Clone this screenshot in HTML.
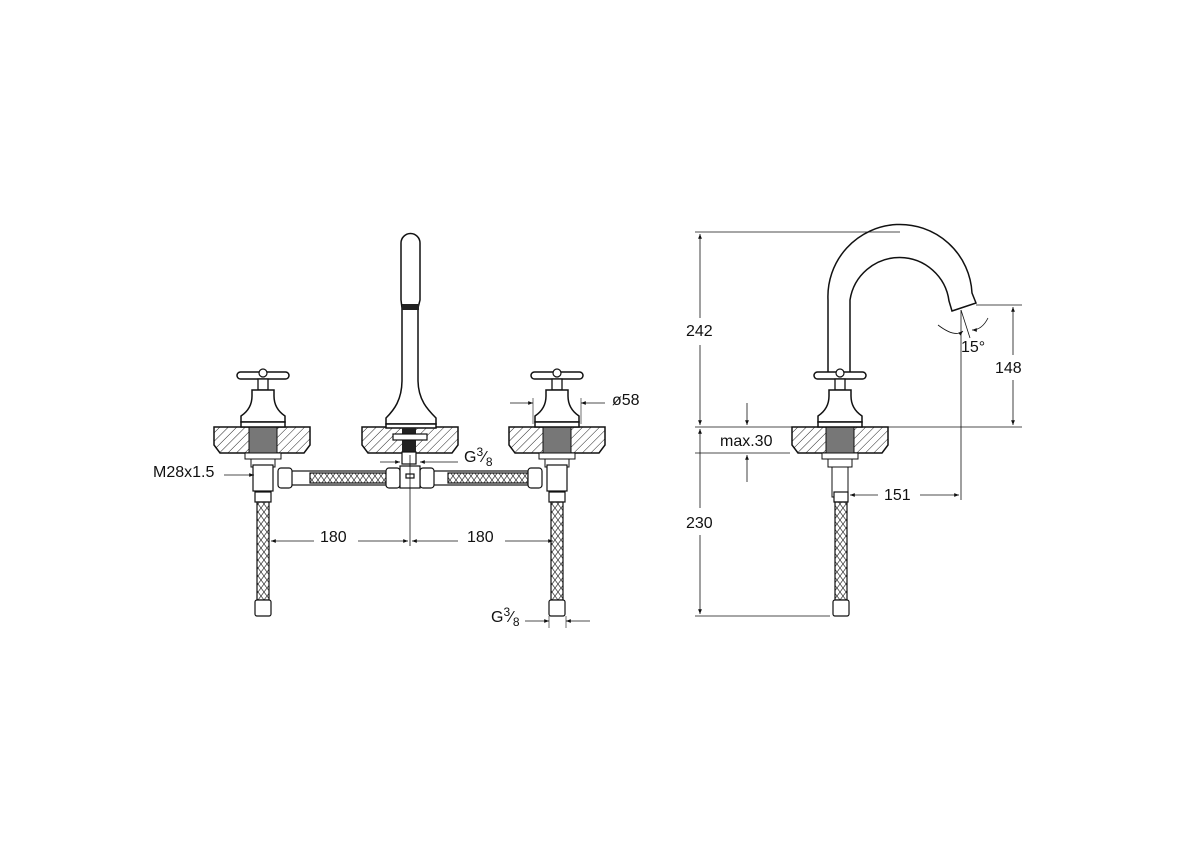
<!DOCTYPE html>
<html><head><style>
html,body{margin:0;padding:0;background:#fff;}
svg{display:block;}
text{font-family:"Liberation Sans",sans-serif;font-size:16px;fill:#111;}
</style></head><body>
<svg width="1200" height="847" viewBox="0 0 1200 847" xmlns="http://www.w3.org/2000/svg">
<defs>
<pattern id="h" width="6" height="6" patternUnits="userSpaceOnUse" patternTransform="rotate(45)">
<line x1="0" y1="0" x2="0" y2="6" stroke="#222" stroke-width="1"/></pattern>
<pattern id="br" width="12" height="8" patternUnits="userSpaceOnUse">
<path d="M0 0 L6 8 L12 0 M0 8 L6 0 L12 8" stroke="#333" stroke-width="0.7" fill="none"/></pattern>
<marker id="a" viewBox="0 0 10 10" refX="10" refY="5" markerWidth="8" markerHeight="6" orient="auto-start-reverse">
<path d="M0 1 L10 5 L0 9z" fill="#111"/></marker>
<g id="handle">
<rect x="-26" y="-4" width="52" height="7" rx="3.5" fill="#fff" stroke="#111" stroke-width="1.5"/>
<circle cx="0" cy="-3" r="4" fill="#fff" stroke="#111" stroke-width="1.2"/>
<rect x="-5" y="3" width="10" height="11" fill="#fff" stroke="#111" stroke-width="1.3"/>
<path d="M-11 14 H11 V20 C11 30 16 36 22 40 V46 H-22 V40 C-16 36 -11 30 -11 20Z" fill="#fff" stroke="#111" stroke-width="1.5"/>
<rect x="-22" y="46" width="44" height="5" fill="#fff" stroke="#111" stroke-width="1.5"/>
</g>
<g id="slab">
<path d="M-48 0 H48 V18 L42 26 H-42 L-48 18Z" fill="url(#h)" stroke="#111" stroke-width="1.5"/>
</g>
<g id="stem">
<rect x="-14" y="0" width="28" height="26" fill="#777" stroke="#111" stroke-width="1"/>
<rect x="-18" y="26" width="36" height="6" fill="#fff" stroke="#111" stroke-width="1"/>
<rect x="-12" y="32" width="24" height="8" fill="#fff" stroke="#111" stroke-width="1"/>
<rect x="-8" y="40" width="16" height="30" fill="#fff" stroke="#111" stroke-width="1"/>
</g>
</defs>
<g fill="none" stroke="#111" stroke-width="1.2">
<use href="#slab" x="262" y="427"/>
<use href="#slab" x="410" y="427"/>
<use href="#slab" x="557" y="427"/>
<use href="#stem" x="263" y="427"/>
<use href="#stem" x="557" y="427"/>
<use href="#handle" x="263" y="376"/>
<use href="#handle" x="557" y="376"/>
<path d="M401 243 A9.5 9.5 0 0 1 420 243 V300 L418 308 V380 C418 400 428 410 436 418 V424 H386 V418 C394 410 402 400 402 380 V308 L401 300 V243Z" fill="#fff" stroke-width="1.5"/>
<rect x="386" y="424" width="50" height="4" fill="#fff" stroke-width="1.5"/>
<rect x="402" y="304" width="17" height="6" fill="#222" stroke="none"/>
<rect x="402" y="428" width="14" height="24" fill="#222" stroke="none"/>
<rect x="393" y="434" width="34" height="6" fill="#fff"/>
<rect x="402" y="452" width="14" height="12" fill="#fff"/>
<rect x="280" y="471" width="260" height="14" fill="#fff"/>
<rect x="310" y="473" width="80" height="10" fill="url(#br)"/>
<rect x="448" y="473" width="80" height="10" fill="url(#br)"/>
<rect x="278" y="468" width="14" height="20" rx="3" fill="#fff"/>
<rect x="386" y="468" width="14" height="20" rx="3" fill="#fff"/>
<rect x="420" y="468" width="14" height="20" rx="3" fill="#fff"/>
<rect x="528" y="468" width="14" height="20" rx="3" fill="#fff"/>
<rect x="400" y="466" width="20" height="22" fill="#fff"/>
<rect x="406" y="474" width="8" height="4"/>
<rect x="253" y="465" width="20" height="26" fill="#fff"/>
<rect x="547" y="465" width="20" height="26" fill="#fff"/>
<rect x="255" y="492" width="16" height="10" fill="#fff"/>
<rect x="549" y="492" width="16" height="10" fill="#fff"/>
<rect x="257" y="502" width="12" height="98" fill="url(#br)"/>
<rect x="551" y="502" width="12" height="98" fill="url(#br)"/>
<rect x="255" y="600" width="16" height="16" rx="2" fill="#fff"/>
<rect x="549" y="600" width="16" height="16" rx="2" fill="#fff"/>
<line x1="410" y1="455" x2="410" y2="546" stroke-width="0.8"/>
<line x1="314" y1="541" x2="271" y2="541" marker-end="url(#a)" stroke-width="0.8"/>
<line x1="358" y1="541" x2="408" y2="541" marker-end="url(#a)" stroke-width="0.8"/>
<line x1="458" y1="541" x2="412" y2="541" marker-end="url(#a)" stroke-width="0.8"/>
<line x1="505" y1="541" x2="553" y2="541" marker-end="url(#a)" stroke-width="0.8"/>
<line x1="224" y1="475" x2="254" y2="475" marker-end="url(#a)" stroke-width="0.8"/>
<line x1="380" y1="462" x2="400" y2="462" marker-end="url(#a)" stroke-width="0.8"/>
<line x1="458" y1="462" x2="420" y2="462" marker-end="url(#a)" stroke-width="0.8"/>
<line x1="510" y1="403" x2="533" y2="403" marker-end="url(#a)" stroke-width="0.8"/>
<line x1="605" y1="403" x2="581" y2="403" marker-end="url(#a)" stroke-width="0.8"/>
<line x1="533" y1="398" x2="533" y2="424" stroke-width="0.6"/>
<line x1="581" y1="398" x2="581" y2="424" stroke-width="0.6"/>
<line x1="525" y1="621" x2="549" y2="621" marker-end="url(#a)" stroke-width="0.8"/>
<line x1="590" y1="621" x2="566" y2="621" marker-end="url(#a)" stroke-width="0.8"/>
<line x1="549" y1="616" x2="549" y2="628" stroke-width="0.6"/>
<line x1="566" y1="616" x2="566" y2="628" stroke-width="0.6"/>
<use href="#slab" x="840" y="427"/>
<use href="#stem" x="840" y="427"/>
<path d="M828 372 V300 A72 72 0 0 1 972 293 L976 303 L952 311 L949 301 A50 50 0 0 0 850 300 V372" fill="#fff" stroke-width="1.5"/>
<use href="#handle" x="840" y="376"/>
<rect x="834" y="492" width="14" height="10" fill="#fff"/>
<rect x="835" y="502" width="12" height="98" fill="url(#br)"/>
<rect x="833" y="600" width="16" height="16" rx="2" fill="#fff"/>
<g stroke-width="0.8">
<line x1="695" y1="232" x2="900" y2="232"/>
<line x1="695" y1="427" x2="1022" y2="427"/>
<line x1="695" y1="616" x2="830" y2="616"/>
<line x1="695" y1="453" x2="790" y2="453"/>
<line x1="700" y1="318" x2="700" y2="234" marker-end="url(#a)"/>
<line x1="700" y1="345" x2="700" y2="425" marker-end="url(#a)"/>
<line x1="700" y1="508" x2="700" y2="429" marker-end="url(#a)"/>
<line x1="700" y1="535" x2="700" y2="614" marker-end="url(#a)"/>
<line x1="747" y1="403" x2="747" y2="425" marker-end="url(#a)"/>
<line x1="747" y1="482" x2="747" y2="455" marker-end="url(#a)"/>
<line x1="976" y1="305" x2="1022" y2="305"/>
<line x1="1013" y1="355" x2="1013" y2="307" marker-end="url(#a)"/>
<line x1="1013" y1="380" x2="1013" y2="425" marker-end="url(#a)"/>
<line x1="961" y1="310" x2="961" y2="500"/>
<line x1="878" y1="495" x2="850" y2="495" marker-end="url(#a)"/>
<line x1="920" y1="495" x2="959" y2="495" marker-end="url(#a)"/>
<line x1="961" y1="310" x2="970" y2="338"/>
<path d="M938 325 Q955 338 963 331" marker-end="url(#a)"/>
<path d="M988 318 Q982 330 972 330" marker-end="url(#a)"/>
</g>
</g>
<text x="153" y="477">M28x1.5</text>
<text x="320" y="542">180</text>
<text x="467" y="542">180</text>
<text x="464" y="462">G<tspan font-size="12" dy="-6">3</tspan><tspan font-size="16" dy="6">⁄</tspan><tspan font-size="12" dy="4">8</tspan></text>
<text x="491" y="622">G<tspan font-size="12" dy="-6">3</tspan><tspan font-size="16" dy="6">⁄</tspan><tspan font-size="12" dy="4">8</tspan></text>
<text x="612" y="405">ø58</text>
<text x="686" y="336">242</text>
<text x="686" y="528">230</text>
<text x="995" y="373">148</text>
<text x="720" y="446">max.30</text>
<text x="884" y="500">151</text>
<text x="961" y="352" font-size="11">15°</text>
</svg>
</body></html>
